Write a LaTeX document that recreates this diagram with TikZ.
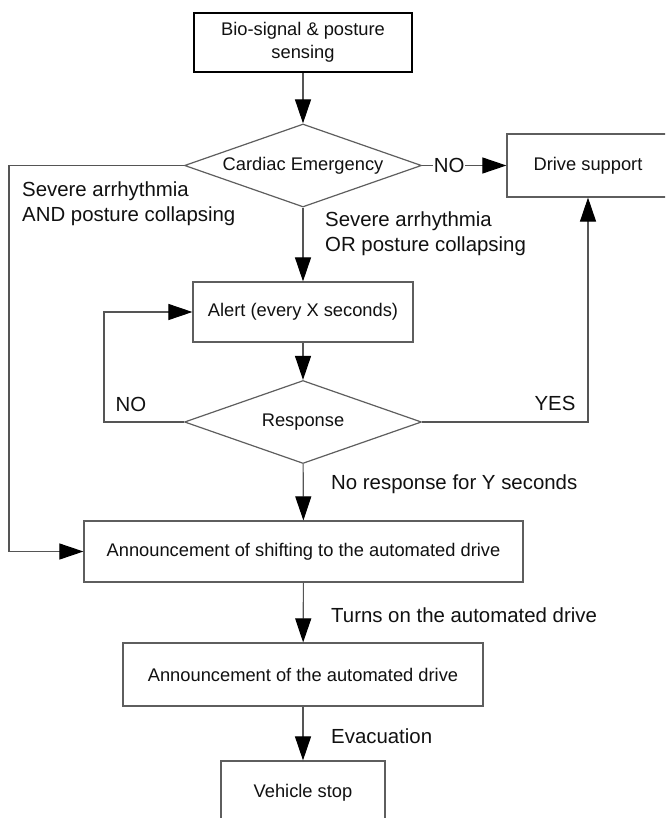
\documentclass[tikz,border=0pt]{standalone}
\usepackage{fontspec}
\setmainfont{Liberation Sans}
\usetikzlibrary{shapes.geometric,arrows.meta}
\definecolor{boxgray}{HTML}{5E5E5E}
\definecolor{linegray}{HTML}{555555}
\definecolor{txt}{HTML}{111111}
\begin{document}
\begin{tikzpicture}[x=1pt,y=-1pt,
  font=\fontsize{18.3}{25}\selectfont, text=txt,
  box/.style={draw=boxgray, line width=1.2pt, rectangle, inner sep=0pt, align=center},
  dia/.style={draw=boxgray, line width=1.2pt, diamond, aspect=2.855, minimum width=237pt, minimum height=83pt, inner sep=0pt},
  conn/.style={draw=linegray, line width=1.1pt},
  arr/.style={conn, -{Triangle[length=24pt,width=16pt,color=black]}},
  lblfont/.style={font=\fontsize{20.4}{25}\selectfont},
  lbl/.style={lblfont, anchor=west, inner sep=0pt, align=left}]
\useasboundingbox (0,0) rectangle (665,818);
\clip (0,0) rectangle (665,818);
\fill[white] (0,0) rectangle (665,818);

\node[box, draw=black, line width=2.5pt, minimum width=218pt, minimum height=59pt, font=\fontsize{18.3}{23}\selectfont] (bio) at (303,42.5) {\raisebox{-3pt}{Bio-signal \& posture}\\\raisebox{-3pt}{sensing}};
\node[dia] (card) at (303,165.5) {Cardiac Emergency};
\node[box, minimum width=162pt, minimum height=63pt] (drive) at (588,165.5) {Drive support};
\node[box, minimum width=220pt, minimum height=60pt] (alert) at (303,312) {Alert (every X seconds)};
\node[dia] (resp) at (303,422) {Response};
\node[box, minimum width=439pt, minimum height=61pt] (shift) at (303.5,551.5) {Announcement of shifting to the automated drive};
\node[box, minimum width=360pt, minimum height=63pt] (auto) at (303,674.5) {Announcement of the automated drive};
\node[box, minimum width=164pt, minimum height=64pt] (stop) at (303,793) {Vehicle stop};

\coordinate (c1) at (9,165.5);
\coordinate (l1) at (104,422);
\coordinate (r1) at (588,422);

\draw[arr] (bio) -- (card);
\draw[arr] (card.east) -- node[pos=0.32, fill=white, inner sep=1pt, lblfont] (no1) {NO} (drive.west);
\draw[arr] (card) -- (alert);
\draw[arr] (card.west) -- (c1) |- (shift.west);
\draw[arr] (alert) -- (resp);
\draw[arr] (resp.west) -- (l1) |- (alert.west);
\draw[arr] (resp.east) -- (r1) -- (drive.south);
\draw[arr] (resp) -- (shift);
\draw[arr] (shift) -- (auto);
\draw[arr] (auto) -- (stop);

\node[lbl] (t1) at (22,203.5) {Severe arrhythmia\\AND posture collapsing};
\node[lbl] (t2) at (325,233.5) {Severe arrhythmia\\OR posture collapsing};
\node[inner sep=0pt, lblfont] (tno) at (131,404) {NO};
\node[inner sep=0pt, lblfont] (tyes) at (555,403) {YES};
\node[lbl] (t3) at (331,484) {No response for Y seconds};
\node[lbl] (t4) at (331,615) {Turns on the automated drive};
\node[lbl] (t5) at (331,736) {Evacuation};
\end{tikzpicture}
\end{document}
